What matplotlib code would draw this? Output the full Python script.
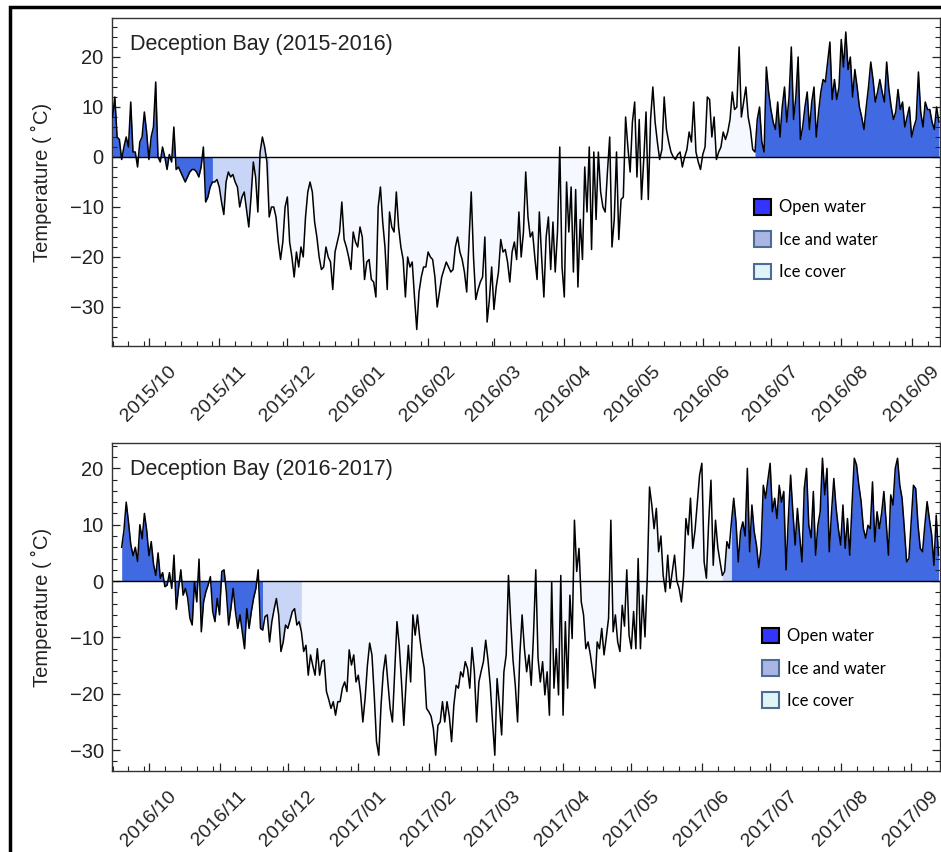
"""Deception Bay air temperature with ice state shading, two seasons."""

import matplotlib
matplotlib.use("Agg")
import matplotlib.pyplot as plt
import matplotlib.dates as mdates
from matplotlib.patches import Patch, Rectangle
import numpy as np
import pandas as pd

plt.rcParams['font.family'] = ['Liberation Sans', 'DejaVu Sans']

# ════════════════════════════════════════════════════════════════════════════
# DATA: daily temperature (deg C)
# ════════════════════════════════════════════════════════════════════════════

start_1 = "2015-09-15"
temp_1 = [
    8, 12, 4, 3.5, -0.5, 2, 4, 2, 11, 1,
    1, -2, 3, 4, 9, 5, -0.5, 4, 6, 15,
    0, -1, 2, 0, -2.5, 0.5, -1, 6, -2.5, -2,
    -3, -4, -5, -4, -3, -2.5, -2.5, -3, -4, -2,
    2, -9, -8, -6, -5, -5, -4.5, -6, -9, -11.5,
    -5, -3, -4, -3.5, -5, -6, -10, -8, -7, -10.5,
    -14, -8, -1, -4, -11, 1, 4, 2, -1, -12,
    -10, -10, -12, -17, -20.5, -17, -10, -8, -17, -20,
    -24, -19, -22, -18, -20, -12, -7, -5, -7, -13,
    -16, -20, -22.5, -22, -18, -20, -21, -26.5, -19, -17,
    -15, -9, -16.5, -18, -20, -22.5, -15, -17, -18, -14,
    -16, -24.5, -21, -20.5, -24.5, -25, -28, -10, -6, -13,
    -18, -26.5, -11, -14, -15, -7, -14, -18, -20.5, -28,
    -20, -22, -21, -28, -34.5, -27, -24, -22, -22, -19,
    -20, -20.5, -24, -30, -27, -24, -22.5, -21, -22, -23,
    -22.5, -18, -16, -19, -20.5, -23, -27, -17, -7, -20,
    -28.5, -26.5, -25, -24, -16, -33, -28.5, -22, -30.5, -26,
    -23, -16.5, -19, -18.5, -21, -25, -19, -17, -20.5, -11,
    -20, -15, -3, -12, -16, -15, -20, -24.5, -11, -20,
    -28, -16, -12, -22.5, -13, -23, -15, 2, -22, -28,
    -5, -15, -6, -23, -6.5, -26, -12.5, -20.5, -2, -11,
    2, -18.5, 1, -12.5, 1, -7, -10, -11, -3, 4,
    -18, -12.5, 1, -16.5, -8.5, -8, 8, 2, -3, 7,
    11, -4, 7.5, -8.5, -0.5, 9, -8.5, 7.5, 14, 7,
    3, -0.5, 1.5, 12, 5.5, 3, 1, 0, -0.5, 0.5,
    1, -2, 0, 1.5, 5, 3, 11, 1, -1, -2.5,
    0.5, 2, 12, 11.5, 4, 8, -0.5, 1, 2, 5,
    3.5, 5, 7.5, 13, 9.5, 10, 22, 8, 11, 14,
    8, 5.5, 1.5, 1, 7.5, 10, 3, 1, 18, 13,
    9.5, 7, 5.5, 11, 4, 10, 14, 7, 12, 22,
    7.5, 12, 20, 3.5, 6, 10, 13, 5.5, 11, 14,
    4, 9, 13, 15.5, 15, 19, 23, 11.5, 15.5, 11.5,
    14, 23.5, 18, 25, 17.5, 20, 12, 17.5, 14, 10,
    8, 5.5, 10, 14, 19, 15.5, 11, 13, 15.5, 13,
    11, 19, 13.5, 10, 7.5, 9, 13.5, 9.5, 11, 6,
    8, 10, 4, 6, 7.5, 17, 9, 6, 11, 9.5,
    9.5, 7, 5.5, 10, 7,
]

start_2 = "2016-09-19"
temp_2 = [
    6, 9, 14, 10.5, 6.5, 4.5, 6, 3.5, 10, 7.5,
    12, 9, 4.5, 7, 3, 1, 5, 0.5, 1.5, -1,
    -0.7, 1.5, -1.3, 4.6, -5, -1.3, 2, -2.5, -1.3, -3,
    -6.6, -7.8, -0.1, -3.7, 3.9, -9, -3.7, -1.9, -0.7, 0.8,
    -5.4, -7.2, -3.1, -6, 1.7, 2, -1.9, -7.8, -4.9, -1.3,
    -5.4, -8.4, -6, -9, -12, -4.9, -8.4, -5.4, -3, -1.3,
    2, -8.4, -8.7, -6.3, -6, -10.8, -7.2, -5, -3.1, -6,
    -12.5, -10.8, -7.8, -8.4, -7, -5.4, -4.9, -7.8, -7.2, -9,
    -12.5, -11.4, -16.7, -13.1, -15, -16.7, -12, -16.7, -14.3, -14,
    -19.6, -21, -22.6, -21.4, -23.8, -21.4, -21.4, -19, -17.9, -19.6,
    -12.2, -14.9, -13.1, -17.9, -16.7, -20, -25, -20.8, -15, -11,
    -13.1, -20.2, -28.5, -30.9, -22, -16.1, -13.1, -18, -22.6, -25,
    -16.1, -7.2, -11.4, -18, -25.6, -18, -11.4, -17.9, -6, -9.6,
    -6, -10, -13.1, -15.5, -22.6, -23.2, -24, -26.2, -30.9, -25.6,
    -25, -21.4, -25, -21.4, -24, -28.5, -22, -18.5, -19, -16.1,
    -17, -14.3, -15.5, -19, -11.8, -16, -25, -17.9, -16, -14.3,
    -10.5, -14, -18.5, -25, -30.9, -17.3, -22, -27.3, -16.1, -13.1,
    1, -7.2, -14, -18.5, -25, -13.1, -6, -12, -16.1, -13.1,
    -18.5, -9.6, 2, -13.7, -17.9, -14.3, -20.2, -16.1, -23.8, -0.1,
    -19, -12, -20.2, 1, -23.8, -7.2, -19, -2.5, -10.2, 10.8,
    1.7, 5.8, -3.7, -6, -12, -10.8, -13.1, -16, -19, -10.8,
    -12, -8.4, -13.1, -10, -6.6, 10.8, -9, -6, -10.8, -12.5,
    -4.3, -8, 2, -9.6, -12, -5.4, -12, 4, -12, -2.5,
    -9.9, 0.5, 16.7, 13.5, 9.3, 12.9, 5.2, 8, 1, -1.9,
    4.6, -1.3, 1.7, 4.6, 0, -1.3, -3.7, 1, 11.1, 8.2,
    14.7, 5.8, 9, 14, 18.8, 20.9, 3.4, 0.5, 10.5, 17.9,
    2.8, 10.8, 6, 3.4, 1, 1.7, 7, 5.8, 10.5, 14.7,
    10.5, 3.4, 8.8, 10.5, 8, 20, 5.2, 13.5, 8.8, 6.4,
    2.4, 5.8, 17, 14.7, 17.9, 20.9, 12.3, 14.7, 11.1, 17,
    14, 15.9, 2, 11.1, 18.8, 12.3, 6.4, 12.9, 8, 3.4,
    16.4, 20, 9.9, 7.7, 15.9, 4.6, 9.9, 12.3, 21.8, 15.3,
    20, 5.2, 12.3, 18.2, 13, 9.3, 6.4, 13.5, 5.8, 11.1,
    4.6, 13.5, 21.8, 20.6, 17, 14.1, 9.3, 7.6, 9.9, 9.3,
    17.6, 7, 12.3, 9.3, 12, 15.9, 10.5, 4.6, 15.3, 13.5,
    20, 21.8, 17, 14.7, 9.3, 3.4, 4, 10.5, 17, 16.4,
    10, 5.8, 5.2, 9.9, 14.1, 11, 8.2, 2.8, 11.7, 4.6,
]

# ice state periods: edges and the state between consecutive edges
ice_edges_1 = ["2015-09-15", "2015-10-29", "2015-11-23", "2016-06-24", "2016-09-13"]
ice_state_1 = ["open", "mixed", "cover", "open"]
ice_edges_2 = ["2016-09-19", "2016-11-20", "2016-12-07", "2017-06-10", "2017-06-14", "2017-09-13"]
ice_state_2 = ["open", "mixed", "cover", "mixed", "open"]

titles = ["Deception Bay (2015-2016)", "Deception Bay (2016-2017)"]
xlims = [("2015-09-14 18:00", "2016-09-13 12:00"), ("2016-09-14 18:00", "2017-09-13 16:00")]
ylims = [(-37.8, 27.8), (-33.7, 24.5)]

legend_labels = ["Open water", "Ice and water", "Ice cover"]

# ════════════════════════════════════════════════════════════════════════════
# STYLE
# ════════════════════════════════════════════════════════════════════════════

FILL = {"open": "#4169e1", "mixed": "#c8d5f7", "cover": "#f6f8ff"}
LEGEND_FACE = ["#3434ff", "#a9b5e2", "#dff4f4"]
LEGEND_EDGE = ["#000000", "#4e6a96", "#4e6a96"]

W, H = 941, 852
fig = plt.figure(figsize=(W / 100, H / 100), dpi=100)

# outer frame of the original figure (left and top edges visible)
fig.patches.append(Rectangle((10 / W, -0.05), 1.2, 1 - 7 / H + 0.05,
                             transform=fig.transFigure, fill=False,
                             lw=2.5, ec="black"))

axes_px = [(112, 18, 940, 346), (112, 443, 940, 771)]
legend_anchor = [(0.775, 0.448), (0.785, 0.436)]


def draw_panel(ax, start, temps, edges, states, title, xlim, ylim, anchor):
    dates = pd.date_range(start, periods=len(temps), freq="D")
    temps = np.asarray(temps, dtype=float)

    for i, state in enumerate(states):
        lo, hi = pd.Timestamp(edges[i]), pd.Timestamp(edges[i + 1])
        mask = (dates >= lo) & (dates <= hi)
        ax.fill_between(dates, temps, 0, where=mask, color=FILL[state],
                        lw=0, interpolate=False, zorder=1)

    ax.axhline(0, color="black", lw=1.0, zorder=2)
    ax.plot(dates, temps, color="black", lw=1.1, zorder=3)

    ax.set_xlim(pd.Timestamp(xlim[0]), pd.Timestamp(xlim[1]))
    ax.set_ylim(*ylim)

    ax.xaxis.set_major_locator(mdates.MonthLocator())
    ax.xaxis.set_major_formatter(mdates.DateFormatter("%Y/%m"))
    ax.xaxis.set_minor_locator(mdates.DayLocator(bymonthday=[8, 15, 22, 29]))
    ax.yaxis.set_major_locator(plt.MultipleLocator(10))
    ax.yaxis.set_minor_locator(plt.MultipleLocator(2))
    ax.yaxis.set_major_formatter(plt.FuncFormatter(lambda v, p: f"{v:.0f}".replace("-", "\u2212")))

    ax.tick_params(which="both", direction="in", right=True, top=False,
                   colors="#222222", labelsize=14.5)
    ax.tick_params(which="major", length=6, width=0.9)
    ax.tick_params(which="minor", length=3.5, width=0.8)
    ax.tick_params(axis="x", labelrotation=45, pad=12, labelsize=14)
    ax.tick_params(axis="y", pad=6)
    for s in ax.spines.values():
        s.set_color("#333333")
        s.set_linewidth(1.0)

    ax.set_ylabel("Temperature ( \u02daC)", fontsize=14.5, color="#222222")
    ax.yaxis.set_label_coords(-0.073, 0.5)

    ax.text(0.022, 0.92, title, transform=ax.transAxes, fontsize=15.5,
            va="center", ha="left", color="#222222")

    handles = [Patch(facecolor=f, edgecolor=e, lw=1.5)
               for f, e in zip(LEGEND_FACE, LEGEND_EDGE)]
    ax.legend(handles, legend_labels, loc="upper left", bbox_to_anchor=anchor,
              frameon=False, borderpad=0, borderaxespad=0,
              handlelength=1.05, handleheight=1.05, handletextpad=0.45,
              labelspacing=0.95, prop={"family": "Lato", "size": 12})


series = [(start_1, temp_1, ice_edges_1, ice_state_1),
          (start_2, temp_2, ice_edges_2, ice_state_2)]

for k, (start, temps, edges, states) in enumerate(series):
    x0, y0, x1, y1 = axes_px[k]
    ax = fig.add_axes([x0 / W, 1 - y1 / H, (x1 - x0) / W, (y1 - y0) / H])
    draw_panel(ax, start, temps, edges, states, titles[k], xlims[k], ylims[k],
               legend_anchor[k])

fig.savefig("out.png", dpi=100)
plt.close(fig)
